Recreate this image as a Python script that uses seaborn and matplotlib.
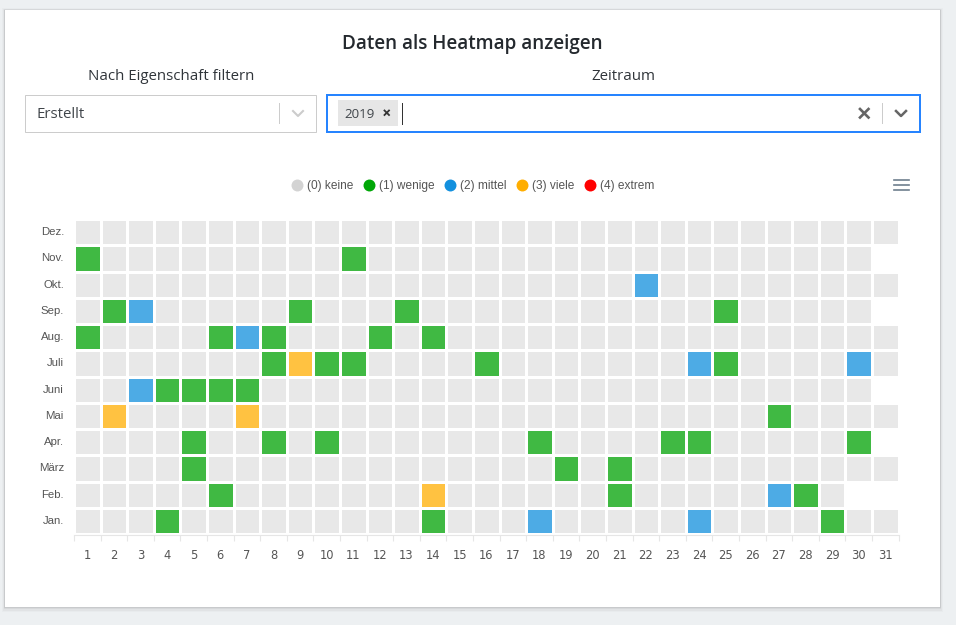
import numpy as np
import pandas as pd
import matplotlib
matplotlib.use('Agg')
import matplotlib.pyplot as plt
import seaborn as sns
from matplotlib.colors import ListedColormap
from matplotlib.lines import Line2D
from matplotlib.patches import Rectangle

# Werte, n = Tag existiert nicht im Raster
n = np.nan
months = ['Dez.', 'Nov.', 'Okt.', 'Sep.', 'Aug.', 'Juli', 'Juni', 'Mai', 'Apr.', 'März', 'Feb.', 'Jan.']
days = list(range(1, 32))

dez = [0, 0, 0, 0, 0, 0, 0, 0, 0, 0, 0, 0, 0, 0, 0, 0, 0, 0, 0, 0, 0, 0, 0, 0, 0, 0, 0, 0, 0, 0, 0]
nov = [1, 0, 0, 0, 0, 0, 0, 0, 0, 0, 1, 0, 0, 0, 0, 0, 0, 0, 0, 0, 0, 0, 0, 0, 0, 0, 0, 0, 0, 0, n]
okt = [0, 0, 0, 0, 0, 0, 0, 0, 0, 0, 0, 0, 0, 0, 0, 0, 0, 0, 0, 0, 0, 2, 0, 0, 0, 0, 0, 0, 0, 0, 0]
sep = [0, 1, 2, 0, 0, 0, 0, 0, 1, 0, 0, 0, 1, 0, 0, 0, 0, 0, 0, 0, 0, 0, 0, 0, 1, 0, 0, 0, 0, 0, n]
aug = [1, 0, 0, 0, 0, 1, 2, 1, 0, 0, 0, 1, 0, 1, 0, 0, 0, 0, 0, 0, 0, 0, 0, 0, 0, 0, 0, 0, 0, 0, 0]
jul = [0, 0, 0, 0, 0, 0, 0, 1, 3, 1, 1, 0, 0, 0, 0, 1, 0, 0, 0, 0, 0, 0, 0, 2, 1, 0, 0, 0, 0, 2, 0]
jun = [0, 0, 2, 1, 1, 1, 1, 0, 0, 0, 0, 0, 0, 0, 0, 0, 0, 0, 0, 0, 0, 0, 0, 0, 0, 0, 0, 0, 0, 0, n]
mai = [0, 3, 0, 0, 0, 0, 3, 0, 0, 0, 0, 0, 0, 0, 0, 0, 0, 0, 0, 0, 0, 0, 0, 0, 0, 0, 1, 0, 0, 0, 0]
apr = [0, 0, 0, 0, 1, 0, 0, 1, 0, 1, 0, 0, 0, 0, 0, 0, 0, 1, 0, 0, 0, 0, 1, 1, 0, 0, 0, 0, 0, 1, n]
mar = [0, 0, 0, 0, 1, 0, 0, 0, 0, 0, 0, 0, 0, 0, 0, 0, 0, 0, 1, 0, 1, 0, 0, 0, 0, 0, 0, 0, 0, 0, 0]
feb = [0, 0, 0, 0, 0, 1, 0, 0, 0, 0, 0, 0, 0, 3, 0, 0, 0, 0, 0, 0, 1, 0, 0, 0, 0, 0, 2, 1, 0, n, n]
jan = [0, 0, 0, 1, 0, 0, 0, 0, 0, 0, 0, 0, 0, 1, 0, 0, 0, 2, 0, 0, 0, 0, 0, 2, 0, 0, 0, 0, 1, 0, 0]

legend_labels = ['(0) keine', '(1) wenige', '(2) mittel', '(3) viele', '(4) extrem']
legend_colors = ['#d3d3d3', '#00a707', '#1390de', '#ffae00', '#ff0000']
cell_colors = ['#e8e8e8', '#40b943', '#4dabe5', '#ffc241', '#ff4040']

W, H = 956, 625
df = pd.DataFrame([dez, nov, okt, sep, aug, jul, jun, mai, apr, mar, feb, jan], index=months, columns=days)

fig = plt.figure(figsize=(W / 100, H / 100), dpi=100, facecolor='#edf0f2')

# Hintergrundebene in Pixelkoordinaten fuer Karte und Formularfelder
bg = fig.add_axes([0, 0, 1, 1], zorder=0)
bg.set_xlim(0, W)
bg.set_ylim(H, 0)
bg.axis('off')

# Schatten der Karte
for grow, col in [(7, '#e8ebed'), (5, '#e1e3e5'), (3, '#d6d8da'), (1.5, '#c8cacc')]:
    bg.add_patch(Rectangle((5 - grow * 0.4, 10 - grow * 0.3), 935 + grow * 0.9, 597 + grow, fc=col, ec='none'))
bg.add_patch(Rectangle((5, 10), 935, 597, fc='white', ec='none'))

ui_font = 'Open Sans'
dark = '#30353a'
bg.text(472.5, 43.5, 'Daten als Heatmap anzeigen', ha='center', va='center', fontsize=13.6,
        family=ui_font, weight=600, color='#24292e')
bg.text(171, 76.5, 'Nach Eigenschaft filtern', ha='center', va='center', fontsize=10.85, family=ui_font, color=dark)
bg.text(623, 76.5, 'Zeitraum', ha='center', va='center', fontsize=10.85, family=ui_font, color=dark)

# linkes Auswahlfeld
bg.add_patch(Rectangle((25.5, 94.5), 291, 37, fc='white', ec='#cccccc', lw=0.72))
bg.text(37, 114.5, 'Erstellt', ha='left', va='center', fontsize=10.85, family=ui_font, color='#40454a')
bg.plot([279.5, 279.5], [103, 123], color='#cccccc', lw=0.72)
bg.plot([293, 298, 303], [111, 116, 111], color='#cccccc', lw=1.5)

# rechtes Auswahlfeld
bg.add_patch(Rectangle((327.5, 94.5), 592.5, 37, fc='white', ec='#2684ff', lw=1.44))
bg.add_patch(Rectangle((338, 100), 60, 26, fc='#e6e6e6', ec='none'))
bg.text(344, 114.5, '2019', ha='left', va='center', fontsize=9.6, family=ui_font, color='#40454a')
bg.plot([384.5, 389], [110.5, 115], color='#333333', lw=1.3)
bg.plot([384.5, 389], [115, 110.5], color='#333333', lw=1.3)
bg.plot([402.5, 402.5], [103, 124], color='#333333', lw=0.72)
bg.plot([860, 868.5], [109, 117.5], color='#666666', lw=1.9)
bg.plot([860, 868.5], [117.5, 109], color='#666666', lw=1.9)
bg.plot([882.5, 882.5], [103, 123], color='#cccccc', lw=0.72)
bg.plot([896, 901, 906], [111, 116, 111], color='#666666', lw=1.8)

# Menue-Symbol
for y in [180, 185, 190]:
    bg.plot([894, 909], [y, y], color='#6e7f8e', lw=1.2)

# Heatmap
left, right, top, bottom = 74.0, 898.5, 219.0, 534.0
ax = fig.add_axes([left / W, 1 - bottom / H, (right - left) / W, (bottom - top) / H], zorder=1)
ax.patch.set_alpha(0)
sns.heatmap(df, ax=ax, cmap=ListedColormap(cell_colors), vmin=-0.5, vmax=4.5, cbar=False,
            linewidths=1.0, linecolor='white', square=False)

ax.set_xlabel('')
ax.set_ylabel('')
ax.tick_params(axis='y', which='major', length=0, pad=7.2, labelsize=8.2, labelcolor='#555555', labelrotation=0)
ax.tick_params(axis='x', which='major', length=0, pad=9.5, labelsize=8.3, labelcolor='#555555', labelrotation=0)
for lab in ax.get_xticklabels() + ax.get_yticklabels():
    lab.set_family('Liberation Sans')

# Teilstriche an den Zellgrenzen
ax.set_xticks(np.arange(0, 32), minor=True)
ax.tick_params(axis='x', which='minor', length=4.5, width=0.8, color='#e6e6e6')
ax.spines['bottom'].set_visible(True)
ax.spines['bottom'].set_position(('outward', 1))
ax.spines['bottom'].set_color('#e6e6e6')
ax.spines['bottom'].set_linewidth(0.8)

# Legende
handles = [Line2D([], [], marker='o', ls='none', ms=8.6, mfc=c, mec='none') for c in legend_colors]
fig.legend(handles, legend_labels, loc='center', bbox_to_anchor=(471.5 / W, 1 - 186 / H), ncols=5, frameon=False,
           prop={'family': 'Liberation Sans', 'size': 8.6}, labelcolor='#555555', handletextpad=0.1,
           columnspacing=0.58, handlelength=1.45, borderpad=0)

fig.savefig('out.png', dpi=100, facecolor=fig.get_facecolor())
